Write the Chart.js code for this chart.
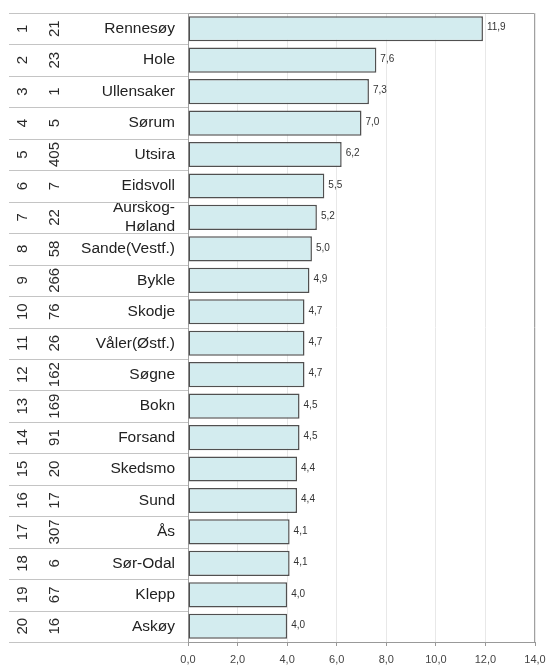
<!DOCTYPE html>
<html>
<head>
<meta charset="utf-8">
<script src="https://cdn.jsdelivr.net/npm/chart.js@4.4.1/dist/chart.umd.min.js"></script>
<style>
    html, body { margin: 0; padding: 0; background: #fff; }
    #wrap { width: 549px; height: 665px; position: relative; }
</style>
</head>
<body>
<div id="wrap"><canvas id="rankChart"></canvas></div>
<script>
// Kommuner rangert etter verdi
const ranks = [1, 2, 3, 4, 5, 6, 7, 8, 9, 10, 11, 12, 13, 14, 15, 16, 17, 18, 19, 20];
const codes = [21, 23, 1, 5, 405, 7, 22, 58, 266, 76, 26, 162, 169, 91, 20, 17, 307, 6, 67, 16];
const names = ['Rennesøy', 'Hole', 'Ullensaker', 'Sørum', 'Utsira', 'Eidsvoll', ['Aurskog-', 'Høland'],
    'Sande(Vestf.)', 'Bykle', 'Skodje', 'Våler(Østf.)', 'Søgne', 'Bokn', 'Forsand', 'Skedsmo',
    'Sund', 'Ås', 'Sør-Odal', 'Klepp', 'Askøy'];
const values = [11.9, 7.6, 7.3, 7.0, 6.2, 5.5, 5.2, 5.0, 4.9, 4.7, 4.7, 4.7, 4.5, 4.5, 4.4, 4.4, 4.1, 4.1, 4.0, 4.0];
const xTicks = [0, 2, 4, 6, 8, 10, 12, 14];

const FONT = "'Liberation Sans', Arial, sans-serif";
const fmt = (v) => v.toFixed(1).replace('.', ',');

// Table columns on the left, row separators, plot frame and value labels
const tablePlugin = {
    id: 'tablePlugin',
    beforeDatasetsDraw(chart) {
        const ctx = chart.ctx;
        const area = chart.chartArea;
        const yScale = chart.scales.y;
        const tableLeft = 9;

        ctx.save();
        ctx.strokeStyle = '#c4c4c4';
        ctx.lineWidth = 1;
        for (let i = 0; i <= ranks.length; i++) {
            const y = Math.round(yScale.getPixelForValue(i - 0.5)) + 0.5;
            ctx.beginPath();
            ctx.moveTo(tableLeft, y);
            ctx.lineTo(area.left, y);
            ctx.stroke();
        }

        // frame round the plot
        ctx.strokeStyle = '#a0a0a0';
        ctx.beginPath();
        ctx.moveTo(area.left + 0.5, area.bottom);
        ctx.lineTo(area.left + 0.5, area.top + 0.5);
        ctx.lineTo(area.right - 0.5, area.top + 0.5);
        ctx.lineTo(area.right - 0.5, area.bottom);
        ctx.stroke();

        // rotated rank and code numbers
        ctx.fillStyle = '#2a2a2a';
        ctx.font = '15px ' + FONT;
        ctx.textAlign = 'center';
        ctx.textBaseline = 'middle';
        ranks.forEach((r, i) => {
            const y = yScale.getPixelForValue(i);
            [[23, r], [55, codes[i]]].forEach(([x, txt]) => {
                ctx.save();
                ctx.translate(x, y);
                ctx.rotate(-Math.PI / 2);
                ctx.fillText(String(txt), 0, 0);
                ctx.restore();
            });
        });
        ctx.restore();
    },
    afterDatasetsDraw(chart) {
        const ctx = chart.ctx;
        const meta = chart.getDatasetMeta(0);
        ctx.save();
        ctx.fillStyle = '#333';
        ctx.font = '10px ' + FONT;
        ctx.textAlign = 'left';
        ctx.textBaseline = 'middle';
        meta.data.forEach((bar, i) => {
            ctx.fillText(fmt(values[i]), bar.x + 4, bar.y - 1);
        });
        ctx.restore();
    }
};

new Chart(document.getElementById('rankChart'), {
    type: 'bar',
    data: {
        labels: names,
        datasets: [{
            data: values,
            backgroundColor: '#d3ecef',
            borderColor: '#505050',
            borderWidth: 1.5,
            borderSkipped: false,
            barPercentage: 0.8,
            categoryPercentage: 1
        }]
    },
    options: {
        indexAxis: 'y',
        responsive: true,
        maintainAspectRatio: false,
        animation: false,
        layout: { padding: { top: 13, left: 9, right: 14, bottom: 0 } },
        plugins: {
            legend: { display: false },
            tooltip: { enabled: false }
        },
        scales: {
            x: {
                min: 0,
                max: 14,
                afterBuildTicks: (scale) => {
                    scale.ticks = xTicks.map(v => ({ value: v }));
                },
                afterFit: (scale) => {
                    scale.height = 23;
                    scale.paddingLeft = 0;
                    scale.paddingRight = 0;
                },
                grid: {
                    color: '#e8e8e8',
                    tickColor: '#999',
                    tickLength: 4
                },
                border: { color: '#999' },
                ticks: {
                    padding: 7,
                    color: '#444',
                    font: { family: FONT, size: 11 },
                    maxRotation: 0,
                    callback: (v) => fmt(v)
                }
            },
            y: {
                afterFit: (scale) => {
                    scale.width = 179;
                    scale.paddingTop = 0;
                    scale.paddingBottom = 0;
                },
                grid: { display: false, drawTicks: false },
                border: { display: false },
                ticks: {
                    padding: 13,
                    color: '#222',
                    font: { family: FONT, size: 15.5 },
                    autoSkip: false
                }
            }
        }
    },
    plugins: [tablePlugin]
});
</script>
</body>
</html>
